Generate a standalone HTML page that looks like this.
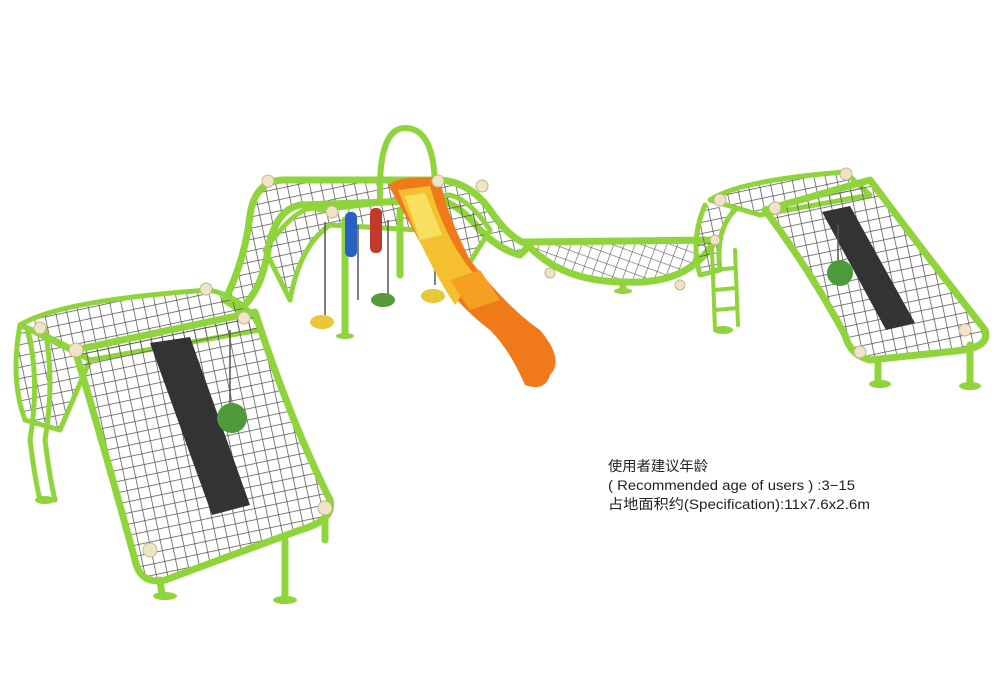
<!DOCTYPE html>
<html><head><meta charset="utf-8"><style>
html,body{margin:0;padding:0;background:#fff;}
svg{display:block}
.t{font-family:"Liberation Sans","Noto Sans CJK SC",sans-serif;font-size:14px;fill:#222}
</style></head><body>
<svg width="1000" height="691" viewBox="0 0 1000 691" xmlns="http://www.w3.org/2000/svg">
<defs>
<pattern id="m" width="11" height="11" patternUnits="userSpaceOnUse" patternTransform="rotate(-12)">
<path d="M0 0H11M0 0V11" stroke="#555" stroke-width="1.5" fill="none"/>
</pattern>
<pattern id="m2" width="10" height="10" patternUnits="userSpaceOnUse" patternTransform="rotate(20)">
<path d="M0 0H10M0 0V10" stroke="#666" stroke-width="1.3" fill="none"/>
</pattern>
</defs>
<rect width="1000" height="691" fill="#fff"/>
<g stroke="#8fd43a" stroke-width="7" stroke-linejoin="round" stroke-linecap="round">
<path d="M225 300 Q245 260 250 215 Q255 180 285 180 L440 180 Q470 182 490 210 Q510 240 530 245 L520 255 Q500 250 480 230 Q460 205 440 200 L300 205 Q275 210 268 250 Q262 290 240 310 Z" fill="url(#m)"/>
<path d="M265 250 Q300 200 320 210 L450 195 Q470 200 490 230 L470 262 Q440 240 420 230 L330 225 Q300 245 290 300 Z" fill="url(#m)" stroke-width="5"/>
<path d="M525 242 L715 240 Q690 285 625 282 Q560 282 525 242 Z" fill="url(#m2)"/>
<path d="M20 325 Q60 300 210 290 Q250 300 260 330 L90 360 Q60 340 20 325 Z" fill="url(#m)" stroke-width="5"/>
<path d="M20 325 Q10 380 25 420 L60 430 L90 360 Z" fill="url(#m)" stroke-width="5"/>
<path d="M75 350 L255 312 Q290 420 330 500 Q335 520 300 530 L165 580 Q140 585 135 560 Q105 450 75 350 Z" fill="url(#m)"/>
<path d="M150 343 L190 337 L250 505 L212 515 Z" fill="#333" stroke="none"/>
<path d="M710 200 Q740 180 845 172 L870 195 L760 215 Z" fill="url(#m)" stroke-width="5"/>
<path d="M765 210 L870 180 Q930 260 985 330 Q990 345 965 350 L870 360 Q850 355 845 335 Q810 270 765 210 Z" fill="url(#m)"/>
<path d="M822 212 L850 206 L915 323 L886 330 Z" fill="#333" stroke="none"/>
<path d="M705 205 Q690 240 700 275 L720 270 Q715 230 735 210" fill="url(#m)" stroke-width="5"/>
<path d="M380 200 Q378 128 405 128 Q435 128 435 190" fill="none" stroke-width="6"/>
<path d="M712 250 L715 330 M735 250 L738 325 M713 270 L735 268 M714 290 L736 288 M715 310 L737 308" fill="none" stroke-width="4"/>
<path d="M28 330 Q40 380 30 440 Q35 480 40 500 M45 330 Q55 380 45 440 Q50 480 55 500" fill="none" stroke-width="5"/>
<path d="M160 580 L162 595 M285 540 L285 600 M325 520 L325 540 M878 360 L878 382 M970 345 L970 385 M623 282 L623 290 M345 220 L345 335 M400 210 L400 275" fill="none" stroke-width="7"/>
</g>
<g fill="#8fd43a"><ellipse cx="165" cy="596" rx="12" ry="4"/><ellipse cx="285" cy="600" rx="12" ry="4"/><ellipse cx="880" cy="384" rx="11" ry="4"/><ellipse cx="970" cy="386" rx="11" ry="4"/><ellipse cx="45" cy="500" rx="10" ry="4"/><ellipse cx="723" cy="330" rx="10" ry="4"/><ellipse cx="623" cy="291" rx="9" ry="3"/><ellipse cx="345" cy="336" rx="9" ry="3"/></g>
<g stroke="#555" stroke-width="1.5"><path d="M325 222V315M388 220V295M358 225V300M435 215V285M230 330V410M838 225V265"/></g>
<rect x="345" y="212" width="12" height="45" rx="5" fill="#2a5fc4"/>
<rect x="370" y="208" width="12" height="45" rx="5" fill="#c23a2a"/>
<ellipse cx="322" cy="322" rx="12" ry="7" fill="#e8c83a"/>
<ellipse cx="383" cy="300" rx="12" ry="7" fill="#5a9a3a"/>
<ellipse cx="433" cy="296" rx="12" ry="7" fill="#e8c83a"/>
<circle cx="232" cy="418" r="15" fill="#4d9a3a"/>
<circle cx="840" cy="273" r="13" fill="#4d9a3a"/>
<path d="M388 185 Q400 175 440 178 Q445 210 470 260 Q510 310 540 330 Q565 360 550 375 Q545 392 525 385 Q510 350 490 330 Q450 300 430 260 Q405 215 388 185 Z" fill="#f07a1a"/>
<path d="M398 190 L430 186 Q445 240 475 275 L455 305 Q425 260 398 190 Z" fill="#f5c030"/>
<path d="M405 196 L425 193 L442 235 L420 240 Z" fill="#f7e060"/>
<path d="M450 280 L480 270 L500 300 L470 310 Z" fill="#f5a020"/>
<g fill="#efe3c8" stroke="#c9b38a" stroke-width="1">
<circle cx="268" cy="181" r="6"/><circle cx="438" cy="181" r="6"/><circle cx="482" cy="186" r="6"/><circle cx="332" cy="212" r="6"/><circle cx="244" cy="318" r="6"/><circle cx="206" cy="289" r="6"/><circle cx="76" cy="350" r="7"/><circle cx="40" cy="328" r="6"/><circle cx="150" cy="550" r="7"/><circle cx="325" cy="508" r="7"/><circle cx="720" cy="200" r="6"/><circle cx="775" cy="208" r="6"/><circle cx="846" cy="174" r="6"/><circle cx="965" cy="330" r="6"/><circle cx="860" cy="352" r="6"/><circle cx="550" cy="273" r="5"/><circle cx="680" cy="285" r="5"/><circle cx="715" cy="240" r="5"/>
</g>
<text class="t" x="608" y="471" textLength="100" lengthAdjust="spacingAndGlyphs">使用者建议年龄</text>
<text class="t" x="608" y="490" textLength="247" lengthAdjust="spacingAndGlyphs">( Recommended age of users ) :3−15</text>
<text class="t" x="608" y="509" textLength="262" lengthAdjust="spacingAndGlyphs">占地面积约(Specification):11x7.6x2.6m</text>
</svg>
</body></html>
